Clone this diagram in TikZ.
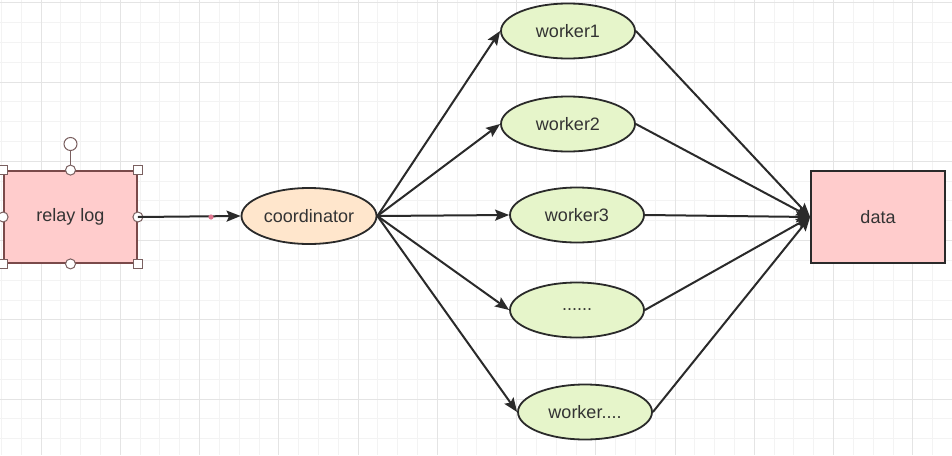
\documentclass[tikz,border=0pt]{standalone}
\usepackage{fontspec}
\setmainfont{Liberation Sans}
\usetikzlibrary{shapes.geometric,arrows.meta}
\definecolor{gridminor}{HTML}{F3F3F3}
\definecolor{gridmajor}{HTML}{E4E4E4}
\definecolor{redfill}{HTML}{FFCCCC}
\definecolor{redline}{HTML}{7A4A4A}
\definecolor{orangefill}{HTML}{FFE6CC}
\definecolor{greenfill}{HTML}{E6F5CA}
\definecolor{darkline}{HTML}{2A2A2A}
\definecolor{txt}{HTML}{333333}
\definecolor{handle}{HTML}{7A6060}
\definecolor{pinkdot}{HTML}{E07890}
\tikzset{
  lbl/.style={font=\fontsize{18}{21}\selectfont, text=txt},
  rbox/.style={rectangle, draw=darkline, line width=1.8pt, fill=redfill, inner sep=0pt, lbl},
  oval/.style={ellipse, draw=darkline, line width=1.8pt, inner sep=0pt, minimum width=134pt, minimum height=55pt, lbl},
  worker/.style={oval, fill=greenfill},
  conn/.style={draw=darkline, line width=2pt, -{Stealth[length=14pt,width=11pt,inset=2.5pt]}},
  sqhandle/.style={rectangle, draw=handle, fill=white, line width=1pt, minimum size=9pt, inner sep=0pt},
  cihandle/.style={circle, draw=handle, fill=white, line width=1pt, minimum size=10pt, inner sep=0pt},
}
\begin{document}
\begin{tikzpicture}[x=1pt,y=-1pt]
\useasboundingbox (0,0) rectangle (952,455);
\fill[white] (0,0) rectangle (952,455);
% grid
\foreach \i in {-2,...,48} {
  \draw[gridminor, line width=0.8pt] ({41+19.8125*\i},0) -- ({41+19.8125*\i},455);
}
\foreach \i in {-5,...,23} {
  \draw[gridminor, line width=0.8pt] (0,{82+19.8125*\i}) -- (952,{82+19.8125*\i});
}
\foreach \i in {0,...,11} {
  \draw[gridmajor, line width=1pt] ({41+79.25*\i},0) -- ({41+79.25*\i},455);
}
\foreach \i in {-1,...,4} {
  \draw[gridmajor, line width=1pt] (0,{82+79.25*\i}) -- (952,{82+79.25*\i});
}
% nodes
\node[rbox, draw=redline, minimum width=133pt, minimum height=92pt] (relay) at (70.5,217) {relay log};
\node[oval, fill=orangefill, minimum width=135pt, minimum height=56pt] (coord) at (309,216) {coordinator};
\node[worker] (w1) at (568,31) {worker1};
\node[worker] (w2) at (568,124) {worker2};
\node[worker] (w3) at (577,215) {worker3};
\node[worker] (w4) at (577,310) {......};
\node[worker] (w5) at (585,412) {worker....};
\node[rbox, minimum width=134pt, minimum height=92pt] (data) at (878,217) {data};
% selection handles on relay log
\coordinate (rot) at (70.5,144);
\draw[handle, line width=1pt] (relay.north) -- (rot);
\node[cihandle, minimum size=13pt] (roth) at (rot) {};
\foreach \a in {north west,north east,south west,south east} {
  \node[sqhandle] at (relay.\a) {};
}
\foreach \a in {north,south,west,east} {
  \node[cihandle] at (relay.\a) {};
}
% connectors
\draw[conn] (relay.east) -- (coord.west);
\coordinate (dot) at (211,217);
\fill[pinkdot] (dot) circle (2.6pt);
\foreach \w in {w1,w2,w3,w4,w5} {
  \draw[conn] (coord.east) -- (\w.west);
  \draw[conn] (\w.east) -- (data.west);
}
\end{tikzpicture}
\end{document}
